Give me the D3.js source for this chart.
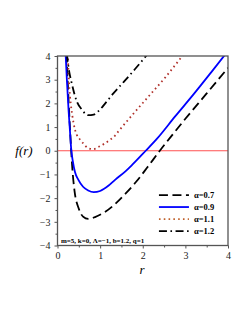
<!DOCTYPE html>
<html>
<head>
<meta charset="utf-8">
<script src="https://cdn.jsdelivr.net/npm/d3@7"></script>
<style>
  body { margin: 0; background: #fff; }
  text { font-family: "Liberation Serif", "DejaVu Serif", serif; }
</style>
</head>
<body>
<div id="chart"></div>
<script>
'use strict';

//#region DATASET
const alphaLabels = ['α=0.7', 'α=0.9', 'α=1.1', 'α=1.2'];

const seriesA07 = [[0.21,4.1],[0.25,2.5],[0.3,0.7],[0.35,-0.8],[0.4,-1.7],[0.5,-2.45],[0.6,-2.78],
  [0.72,-2.88],[0.88,-2.8],[1.1,-2.6],[1.35,-2.25],[1.6,-1.8],[1.85,-1.3],[2.1,-0.72],[2.4,0],
  [2.7,0.68],[3.0,1.35],[3.5,2.42],[4.0,3.5]];
const seriesA09 = [[0.19,4.1],[0.22,3.0],[0.26,1.7],[0.29,0.9],[0.32,0.1],[0.36,-0.45],[0.41,-0.9],
  [0.49,-1.23],[0.6,-1.52],[0.72,-1.68],[0.85,-1.75],[1.0,-1.7],[1.2,-1.47],[1.35,-1.23],[1.6,-0.86],
  [1.75,-0.6],[2.07,0],[2.33,0.5],[2.76,1.45],[3.2,2.4],[3.6,3.3],[3.95,4.1]];
const seriesA11 = [[0.24,4.1],[0.27,2.9],[0.31,2.0],[0.35,1.46],[0.41,0.89],[0.45,0.68],[0.53,0.47],
  [0.61,0.3],[0.72,0.11],[0.84,0.07],[0.96,0.16],[1.1,0.3],[1.24,0.47],[1.35,0.64],[1.43,0.82],
  [1.75,1.5],[2.1,2.22],[2.53,3.1],[2.95,4.05]];
const seriesA12 = [[0.22,4.1],[0.26,3.5],[0.33,2.88],[0.45,2.1],[0.57,1.74],[0.72,1.5],[0.85,1.53],
  [0.96,1.67],[1.12,2.0],[1.3,2.4],[1.55,2.9],[1.82,3.45],[2.1,4.05]];

const xTicks = [0, 1, 2, 3, 4];
const yTicks = [-4, -3, -2, -1, 0, 1, 2, 3, 4];
const annotation = 'm=5, k=0, Λ=−1, b=1.2, q=1';
//#endregion DATASET

//#region CHART DIMENSIONS
const dimensions = {
  width: 249,
  height: 323,
  margin: { top: 56, right: 21, bottom: 77.5, left: 57.5 }
};
dimensions.plotWidth = dimensions.width - dimensions.margin.left - dimensions.margin.right;
dimensions.plotHeight = dimensions.height - dimensions.margin.top - dimensions.margin.bottom;
//#endregion CHART DIMENSIONS

//#region DRAW CANVAS
const wrapper = d3.select('#chart').append('svg')
  .attr('width', dimensions.width)
  .attr('height', dimensions.height)
  .style('background', '#fff');

const plot = wrapper.append('g')
  .attr('transform', `translate(${dimensions.margin.left}, ${dimensions.margin.top})`);

plot.append('clipPath').attr('id', 'clip')
  .append('rect')
  .attr('width', dimensions.plotWidth)
  .attr('height', dimensions.plotHeight);
//#endregion DRAW CANVAS

//#region CREATE SCALES
const xScale = d3.scaleLinear().domain([0, 4]).range([0, dimensions.plotWidth]);
const yScale = d3.scaleLinear().domain([-4, 4]).range([dimensions.plotHeight, 0]);
//#endregion CREATE SCALES

//#region DRAW DATA
const series = [
  { data: seriesA07, color: '#000', dash: '9,4.5', width: 1.8 },
  { data: seriesA09, color: '#0000ff', dash: null, width: 1.8 },
  { data: seriesA11, color: '#b0302a', dash: '1.6,3.2', width: 1.8 },
  { data: seriesA12, color: '#000', dash: '8,3.5,1.6,3.5', width: 1.8 }
];

const lineGenerator = d3.line()
  .x(d => xScale(d[0]))
  .y(d => yScale(d[1]))
  .curve(d3.curveMonotoneX);

// zero line
plot.append('line')
  .attr('x1', xScale(0)).attr('x2', xScale(4))
  .attr('y1', yScale(0)).attr('y2', yScale(0))
  .attr('stroke', '#ff5050')
  .attr('stroke-width', 1);

const curves = plot.append('g').attr('clip-path', 'url(#clip)');
curves.selectAll('path').data(series)
  .enter()
  .append('path')
  .attr('d', d => lineGenerator(d.data))
  .attr('fill', 'none')
  .attr('stroke', d => d.color)
  .attr('stroke-width', d => d.width)
  .attr('stroke-dasharray', d => d.dash);
//#endregion DRAW DATA

//#region DRAW PERIPHERALS
const xAxis = plot.append('g')
  .attr('transform', `translate(0, ${dimensions.plotHeight})`)
  .call(d3.axisBottom(xScale).tickValues(xTicks).tickSize(3).tickSizeOuter(0).tickFormat(d3.format('d')));

const xMinor = plot.append('g')
  .attr('transform', `translate(0, ${dimensions.plotHeight})`)
  .call(d3.axisBottom(xScale).tickValues(d3.range(0.5, 4, 1)).tickSize(2).tickSizeOuter(0).tickFormat(''));

const yAxis = plot.append('g')
  .call(d3.axisLeft(yScale).tickValues(yTicks).tickSize(3).tickSizeOuter(0)
    .tickFormat(d => d3.format('d')(d).replace('-', '−')));

const yMinor = plot.append('g')
  .call(d3.axisLeft(yScale).tickValues(d3.range(-3.5, 4, 1)).tickSize(2).tickSizeOuter(0).tickFormat(''));

[xAxis, xMinor, yAxis, yMinor].forEach(a => {
  a.select('.domain').remove();
  a.selectAll('line').attr('stroke', '#555');
  a.selectAll('text').attr('font-size', 10).attr('fill', '#222')
    .attr('font-family', '"Liberation Serif", serif');
});
yAxis.selectAll('text').attr('dx', '-0.1em');

plot.append('rect')
  .attr('width', dimensions.plotWidth)
  .attr('height', dimensions.plotHeight)
  .attr('fill', 'none')
  .attr('stroke', '#555')
  .attr('stroke-width', 1.3);

wrapper.append('text')
  .attr('x', 142).attr('y', 274)
  .attr('text-anchor', 'middle')
  .attr('font-size', 13)
  .attr('font-style', 'italic')
  .text('r');

wrapper.append('text')
  .attr('x', 24).attr('y', 155)
  .attr('text-anchor', 'middle')
  .attr('font-size', 13)
  .attr('font-style', 'italic')
  .text('f(r)');

plot.append('text')
  .attr('x', 3.5)
  .attr('y', dimensions.plotHeight - 3)
  .attr('font-size', 7)
  .attr('font-weight', 'bold')
  .text(annotation);

// legend
const legend = plot.append('g')
  .attr('transform', `translate(${xScale(2.38)}, ${yScale(-1.87)})`);
const legendRows = legend.selectAll('g').data(series)
  .enter()
  .append('g')
  .attr('transform', (d, i) => `translate(0, ${i * 12})`);
legendRows.append('line')
  .attr('x1', 0).attr('x2', 30)
  .attr('stroke', d => d.color === '#b0302a' ? '#c0602a' : d.color)
  .attr('stroke-width', d => d.width)
  .attr('stroke-dasharray', d => d.dash);
legendRows.append('text')
  .attr('x', 35).attr('dy', '0.35em')
  .attr('font-size', 8.5)
  .attr('font-weight', 'bold')
  .text((d, i) => alphaLabels[i]);
//#endregion
</script>
</body>
</html>
